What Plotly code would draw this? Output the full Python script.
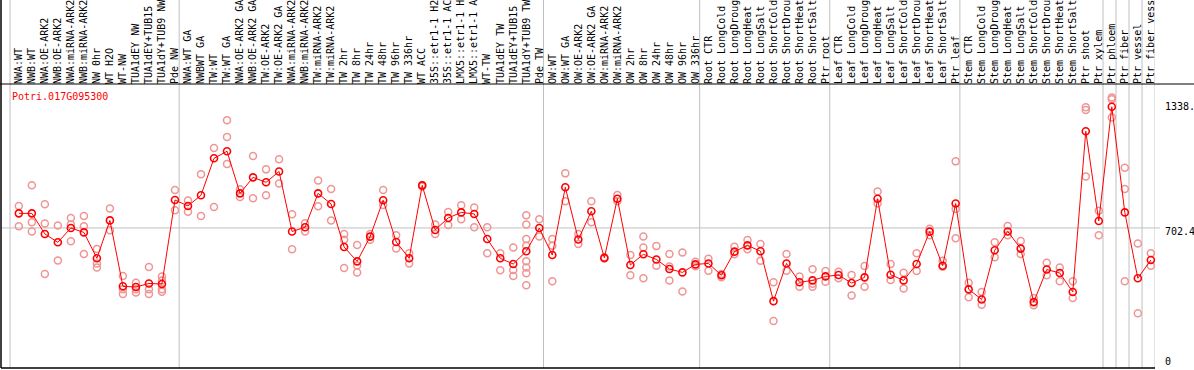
import plotly.graph_objects as go

labels = [
    "NWA:WT", "NWB:WT", "NWA:OE-ARK2", "NWB:OE-ARK2", "NWA:miRNA-ARK2", "NWB:miRNA-ARK2",
    "NW 0hr", "WT H2O", "WT-NW", "TUA1dEY NW", "TUA1dEY+TUB15 NW", "TUA1dY+TUB9 NW", "Pde NW",
    "NWA:WT GA", "NWBWT GA", "TW:WT", "TW:WT GA", "NWA:OE-ARK2 GA", "NWB:OE-ARK2 GA",
    "TW:OE-ARK2", "TW:OE-ARK2 GA", "NWA:miRNA-ARK2 GA", "NWB:miRNA-ARK2 GA", "TW:miRNA-ARK2",
    "TW:miRNA-ARK2 GA", "TW 2hr", "TW 8hr", "TW 24hr", "TW 48hr", "TW 96hr", "TW 336hr",
    "WT ACC", "35S::etr1-1 H2O", "35S::etr1-1 ACC", "LMX5::etr1-1 H2O", "LMX5::etr1-1 ACC",
    "WT-TW", "TUA1dEY TW", "TUA1dEY+TUB15 TW", "TUA1dY+TUB9 TW", "Pde TW",
    "OW:WT", "OW:WT GA", "OW:OE-ARK2", "OW:OE-ARK2 GA", "OW:miRNA-ARK2", "OW:miRNA-ARK2 GA",
    "OW 2hr", "OW 8hr", "OW 24hr", "OW 48hr", "OW 96hr", "OW 336hr",
    "Root CTR", "Root LongCold", "Root LongDrought", "Root LongHeat", "Root LongSalt",
    "Root ShortCold", "Root ShortDrought", "Root ShortHeat", "Root ShortSalt", "Ptr root",
    "Leaf CTR", "Leaf LongCold", "Leaf LongDrought", "Leaf LongHeat", "Leaf LongSalt",
    "Leaf ShortCold", "Leaf ShortDrought", "Leaf ShortHeat", "Leaf ShortSalt", "Ptr leaf",
    "Stem CTR", "Stem LongCold", "Stem LongDrought", "Stem LongHeat", "Stem LongSalt",
    "Stem ShortCold", "Stem ShortDrought", "Stem ShortHeat", "Stem ShortSalt", "Ptr shoot",
    "Ptr xylem", "Ptr phloem", "Ptr fiber", "Ptr vessel", "Ptr fiber vessel",
]

means = [
    779, 779, 671, 627, 702, 679, 543, 742, 396, 392, 411, 408, 849,
    818, 874, 1068, 1105, 884, 968, 942, 999, 684, 706, 884, 828, 602, 527, 657, 848, 629,
    543, 926, 692, 755, 784, 776, 644, 543, 513, 580, 702,
    560, 916, 642, 790, 545, 856, 508, 564, 537, 487, 469, 511,
    516, 454, 578, 611, 580, 318, 516, 417, 427, 448,
    455, 413, 443, 856, 457, 427, 513, 683, 504, 831,
    380, 327, 585, 684, 594, 313, 484, 466, 366, 1210, 739,
    1338.6, 784, 438, 534,
]

replicates = [
    [818, 711], [926, 732, 684], [827, 726, 460], [715, 532], [755, 720, 632],
    [765, 711, 565], [592, 516, 495], [804, 690], [450, 380, 356], [415, 380, 363],
    [497, 380, 356], [447, 426, 380, 368], [902, 795],
    [846, 788], [984, 765], [1122, 812], [1268, 1180, 1038], [905, 865], [1080, 858],
    [1010, 874], [1063, 936], [774, 590], [727, 684], [952, 816], [907, 742],
    [671, 640, 492], [613, 505, 469], [671, 640], [902, 823], [664, 594],
    [569, 516], [926, 920], [721, 671], [786, 718], [821, 748], [810, 706],
    [706, 569], [569, 480], [600, 482, 450], [769, 721, 644, 609, 527, 495, 464, 401],
    [748, 657],
    [644, 609, 422], [989, 842], [671, 618], [842, 732], [548, 542], [876, 842],
    [560, 454], [657, 600, 438], [607, 504], [565, 500, 427], [574, 369], [525, 501],
    [541, 478], [460, 443], [604, 564], [639, 590], [618, 530], [417, 214],
    [565, 478], [447, 394], [485, 410, 394], [476, 420],
    [473, 438], [455, 348], [502, 394], [894, 831], [513, 429], [467, 384],
    [569, 476], [698, 664], [530, 499], [1052, 802, 648],
    [415, 338], [366, 299], [627, 548], [713, 664], [634, 565], [334, 296],
    [520, 454], [495, 422], [423, 334], [1336, 1322, 973], [793, 664],
    [1388, 1378, 1282], [1019, 907, 422], [621, 254], [569, 504],
]

group_starts = [0, 13, 41, 53, 63, 73, 84, 85, 86, 87, 88]
gene = "Potri.017G095300"
mid_value = 702.4

FONT = "DejaVu Sans Mono"
W, H = 1194, 370
ML, MR, MT, MB = 1, 39, 85, 2
PW = W - ML - MR
PH = H - MT - MB

xs = list(range(len(labels)))
rx, ry = [], []
for i, reps in enumerate(replicates):
    for v in reps:
        rx.append(i)
        ry.append(v)

fig = go.Figure()
fig.add_trace(go.Scatter(
    x=rx, y=ry, mode="markers",
    marker=dict(symbol="circle-open", size=7, color="#f09494", line=dict(width=1.5, color="#f09494")),
    hoverinfo="skip", showlegend=False, cliponaxis=False,
))
fig.add_trace(go.Scatter(
    x=xs, y=means, mode="lines+markers",
    line=dict(color="#ff0000", width=1),
    marker=dict(symbol="circle-open", size=7, color="#ff0000", line=dict(width=1.6, color="#ff0000")),
    showlegend=False, cliponaxis=False,
))

xmin, xmax = -1.37, 87.32
ymin, ymax = -33, 1453

shapes = []
for k in group_starts:
    shapes.append(dict(type="line", xref="x", yref="paper", x0=k - 0.676, x1=k - 0.676,
                       y0=0, y1=1 + MT / PH, line=dict(color="#c0c0c0", width=1), layer="below"))
shapes.append(dict(type="line", xref="paper", yref="y", x0=0, x1=(1160 - ML) / PW,
                   y0=mid_value, y1=mid_value, line=dict(color="#c0c0c0", width=1), layer="below"))
# frame lines
shapes.append(dict(type="line", xref="paper", yref="paper", x0=-ML / PW, x1=(W - ML) / PW,
                   y0=1 + 1 / PH, y1=1 + 1 / PH, line=dict(color="black", width=1)))
shapes.append(dict(type="line", xref="paper", yref="paper", x0=0, x1=1,
                   y0=0, y1=0, line=dict(color="black", width=1.5)))
shapes.append(dict(type="line", xref="paper", yref="paper", x0=0, x1=0,
                   y0=0, y1=1 + MT / PH, line=dict(color="black", width=1.5)))

annotations = [
    dict(text=gene, xref="paper", yref="paper", x=(10 - ML) / PW, y=(H - MB - 97) / PH,
         xanchor="left", yanchor="middle", showarrow=False,
         font=dict(family=FONT, size=10, color="#ff0000")),
]
ylabels = [(max(means), f"{max(means):.1f}", 0), (mid_value, f"{mid_value}", -4), (0, "0", 0)]
for v, t, sh in ylabels:
    annotations.append(dict(text=t, xref="paper", yref="y", x=(1163 - ML) / PW, y=v,
                            xanchor="left", yanchor="middle", yshift=sh, showarrow=False,
                            font=dict(family=FONT, size=10, color="black")))

fig.update_layout(
    width=W, height=H,
    margin=dict(l=ML, r=MR, t=MT, b=MB, pad=0, autoexpand=False),
    paper_bgcolor="white", plot_bgcolor="white",
    shapes=shapes, annotations=annotations,
    xaxis=dict(range=[xmin, xmax], tickvals=xs, ticktext=labels, side="top", tickangle=-90,
               tickfont=dict(family=FONT, size=10, color="black"), ticks="", ticklen=0,
               showgrid=False, automargin=False,
               zeroline=False, showline=False, fixedrange=True),
    yaxis=dict(range=[ymin, ymax], showticklabels=False, ticks="", showgrid=False,
               automargin=False, zeroline=False, showline=False, fixedrange=True),
)

fig.write_html("out.html", config={"displayModeBar": False},
               post_script="document.body.style.margin='0';document.body.style.padding='0';")
